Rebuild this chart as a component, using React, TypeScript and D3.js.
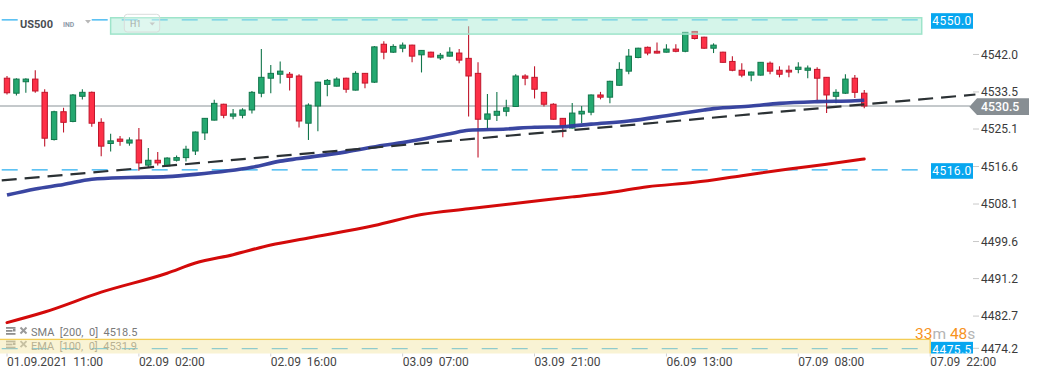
import React from "react";
import * as d3 from "d3";

// ---------- DATA ----------
const opens = [4536.8, 4533.4, 4536.0, 4536.6, 4533.6, 4522.9, 4529.2, 4527.0, 4532.7, 4533.6, 4526.8, 4522.0, 4523.0, 4522.1, 4522.8, 4517.1, 4518.2, 4516.9, 4518.2, 4518.8, 4520.3, 4524.4, 4527.3, 4530.9, 4528.2, 4528.4, 4529.6, 4533.4, 4536.8, 4537.7, 4537.7, 4537.3, 4526.6, 4530.5, 4535.4, 4535.0, 4536.8, 4534.1, 4537.9, 4535.9, 4544.5, 4542.7, 4543.6, 4544.3, 4542.1, 4542.7, 4541.4, 4541.8, 4542.5, 4541.3, 4537.9, 4527.5, 4528.4, 4529.3, 4530.4, 4537.3, 4537.0, 4533.6, 4530.9, 4527.7, 4525.5, 4528.7, 4529.1, 4533.0, 4532.5, 4535.2, 4538.4, 4541.5, 4543.8, 4542.9, 4542.7, 4543.4, 4542.9, 4547.4, 4546.1, 4543.6, 4542.7, 4540.6, 4538.6, 4537.5, 4537.5, 4540.2, 4538.6, 4538.6, 4538.8, 4538.6, 4538.8, 4537.0, 4532.7, 4533.4, 4536.8, 4533.4];
const highs = [4537.3, 4536.8, 4536.8, 4538.6, 4534.3, 4529.4, 4530.1, 4533.2, 4534.3, 4533.8, 4527.7, 4524.2, 4523.7, 4523.4, 4525.5, 4521.0, 4520.1, 4518.9, 4519.3, 4521.5, 4524.7, 4527.8, 4531.9, 4531.0, 4529.8, 4530.0, 4533.9, 4543.4, 4539.8, 4540.6, 4538.2, 4537.7, 4531.1, 4536.0, 4536.6, 4537.0, 4536.9, 4538.4, 4538.0, 4544.1, 4545.2, 4544.5, 4544.9, 4544.4, 4543.2, 4542.8, 4542.5, 4543.8, 4543.4, 4548.6, 4540.4, 4533.2, 4533.7, 4531.9, 4537.7, 4537.7, 4539.5, 4533.7, 4531.1, 4527.8, 4531.2, 4530.5, 4533.1, 4533.7, 4536.2, 4540.4, 4543.4, 4543.7, 4544.0, 4544.9, 4544.5, 4544.5, 4547.3, 4547.5, 4546.2, 4544.7, 4542.8, 4541.8, 4540.2, 4538.3, 4540.5, 4540.6, 4539.5, 4539.7, 4540.4, 4539.7, 4539.3, 4537.1, 4534.3, 4537.7, 4537.5, 4534.1];
const lows = [4533.1, 4532.9, 4533.5, 4533.5, 4521.3, 4522.7, 4524.5, 4526.8, 4532.0, 4525.8, 4519.1, 4520.2, 4521.5, 4521.5, 4515.8, 4516.6, 4517.0, 4516.8, 4517.9, 4517.9, 4519.4, 4522.8, 4527.2, 4527.7, 4527.5, 4527.7, 4528.8, 4532.5, 4533.4, 4535.6, 4534.0, 4525.6, 4522.8, 4524.8, 4532.7, 4534.9, 4533.5, 4534.0, 4534.5, 4535.7, 4541.1, 4542.5, 4542.7, 4540.4, 4538.1, 4541.5, 4540.9, 4541.7, 4540.2, 4528.1, 4518.8, 4525.3, 4527.1, 4528.2, 4530.3, 4535.2, 4532.2, 4530.4, 4527.4, 4523.4, 4525.4, 4526.6, 4528.4, 4532.0, 4531.1, 4535.1, 4537.7, 4541.3, 4542.0, 4542.4, 4542.6, 4542.7, 4542.7, 4545.6, 4543.5, 4542.5, 4540.3, 4538.4, 4537.0, 4536.1, 4537.4, 4537.7, 4537.0, 4537.0, 4537.9, 4536.8, 4531.8, 4528.9, 4531.1, 4533.2, 4532.3, 4530.0];
const closes = [4533.5, 4536.6, 4536.6, 4533.9, 4523.2, 4529.2, 4526.8, 4533.0, 4533.6, 4526.6, 4521.4, 4522.6, 4522.5, 4522.8, 4517.6, 4518.2, 4517.6, 4518.7, 4518.8, 4520.7, 4524.6, 4527.7, 4531.1, 4528.4, 4528.7, 4529.6, 4533.6, 4537.0, 4537.9, 4538.4, 4537.0, 4527.1, 4530.7, 4535.9, 4536.3, 4536.6, 4534.3, 4537.9, 4535.7, 4543.9, 4542.7, 4544.0, 4544.3, 4541.8, 4543.1, 4541.6, 4542.0, 4542.7, 4540.9, 4537.3, 4527.5, 4528.7, 4529.3, 4530.1, 4537.3, 4536.8, 4534.3, 4530.9, 4527.5, 4525.9, 4528.9, 4529.3, 4533.0, 4532.5, 4536.1, 4538.8, 4541.8, 4543.6, 4542.5, 4542.5, 4543.4, 4542.9, 4547.2, 4545.8, 4543.6, 4544.3, 4540.4, 4538.6, 4537.5, 4538.2, 4540.4, 4538.4, 4537.7, 4538.2, 4539.3, 4539.1, 4536.8, 4533.0, 4533.6, 4536.6, 4533.6, 4530.5];

// EMA(100) read at candle indices
const emaIdx = [0, 3, 6, 9, 13, 17, 20, 26, 29, 31, 36, 40, 42, 47, 49, 53, 56, 59, 62, 66, 70, 74, 75, 79, 82, 86, 90, 91];
const emaVal = [4510.3, 4511.7, 4512.7, 4513.9, 4514.3, 4514.5, 4515.0, 4516.6, 4518.0, 4518.6, 4520.1, 4521.6, 4522.2, 4524.2, 4525.0, 4525.3, 4525.7, 4525.8, 4526.4, 4527.1, 4528.3, 4529.6, 4529.9, 4530.5, 4531.1, 4531.5, 4531.7, 4531.8];
// SMA(200) read at candle indices
const smaIdx = [0, 4, 10, 17, 20, 24, 28, 32, 39, 44, 49, 55, 60, 64, 68, 73, 78, 83, 87, 91];
const smaVal = [4481.4, 4483.8, 4488.3, 4492.6, 4494.9, 4496.8, 4499.0, 4500.6, 4503.4, 4505.9, 4507.2, 4508.7, 4509.9, 4510.9, 4512.2, 4513.2, 4514.7, 4516.2, 4517.3, 4518.5];

const trendIdx = [-0.74, 102.8];
const trendVal = [4513.6, 4533.1];

const yTickValues = [4542.0, 4533.5, 4525.1, 4516.6, 4508.1, 4499.6, 4491.2, 4482.7, 4474.2];
const yTickLabels = ["4542.0", "4533.5", "4525.1", "4516.6", "4508.1", "4499.6", "4491.2", "4482.7", "4474.2"];
const xTickIdx = [0, 14, 28, 42, 56, 70, 84, 98];
const xTickLabels = ["01.09.2021  11:00", "02.09  02:00", "02.09  16:00", "03.09  07:00", "03.09  21:00", "06.09  13:00", "07.09  08:00", "07.09  22:00"];

const levelValues = [4550.0, 4516.0, 4475.5];
const levelLabels = ["4550.0", "4516.0", "4475.5"];
const lastPrice = 4530.5;
const lastPriceLabel = "4530.5";

const resistanceZoneVal = [4546.8, 4550.5];
const resistanceZoneIdx = [11.0, 97.1];
const supportZoneVal = [4468.0, 4477.6];
const supportZoneIdx = [-1.0, 98.0];

const legendLabels = ["SMA  [200,  0]  4518.5", "EMA  [100,  0]  4531.9"];
const symbolName = "US500";
const symbolType = "IND";
const timeframe = "H1";
const timerParts = ["33", "m", " 48", "s"];

// ---------- LAYOUT ----------
const W = 1041;
const H = 379;
const PLOT_BOTTOM = 353.6;
const FONT = "Roboto, 'Noto Sans', sans-serif";

if (typeof document !== "undefined") {
  document.body.style.margin = "0";
}

const GREEN_FILL = "#24a870";
const GREEN_STROKE = "#12764b";
const RED_FILL = "#fd3047";
const RED_STROKE = "#c0162b";
const CYAN = "#2aaff0";

export default function App() {
  const x = d3.scaleLinear().domain([0, 98]).range([7.0, 930.2]);
  const y = d3.scaleLinear().domain([4530.5, 4550]).range([106.0, 19.97]);

  const line = d3
    .line<[number, number]>()
    .x((d) => x(d[0]))
    .y((d) => y(d[1]))
    .curve(d3.curveMonotoneX);

  const emaPath = line(emaIdx.map((d, i) => [d, emaVal[i]]) as [number, number][]) || "";
  const smaPath = line(smaIdx.map((d, i) => [d, smaVal[i]]) as [number, number][]) || "";
  const trendPath =
    d3
      .line<[number, number]>()
      .x((d) => x(d[0]))
      .y((d) => y(d[1]))(trendIdx.map((d, i) => [d, trendVal[i]]) as [number, number][]) || "";

  const bodyW = 5.4;

  return (
    <svg width={W} height={H} style={{ display: "block", fontFamily: FONT, background: "#fff" }}>
      <defs>
        <clipPath id="plot">
          <rect x={0} y={0} width={978} height={PLOT_BOTTOM} />
        </clipPath>
      </defs>
      <rect x={0} y={0} width={W} height={H} fill="#ffffff" />

      <g clipPath="url(#plot)">
        {/* horizontal levels */}
        {levelValues.map((v, i) => (
          <line
            key={"lv" + i}
            x1={0}
            x2={921}
            y1={y(v)}
            y2={y(v)}
            stroke={CYAN}
            strokeWidth={1.3}
            strokeDasharray="16 14"
            strokeDashoffset={28.3}
          />
        ))}
        {/* current price line */}
        <line x1={0} x2={970} y1={y(lastPrice)} y2={y(lastPrice)} stroke="#8a9398" strokeWidth={1} />

        {/* candles */}
        {opens.map((o, i) => {
          const c = closes[i];
          const up = c >= o;
          const cx = x(i);
          const top = y(Math.max(o, c));
          const bot = y(Math.min(o, c));
          const h = Math.max(bot - top, 1);
          return (
            <g key={"c" + i}>
              <line
                x1={cx}
                x2={cx}
                y1={y(highs[i])}
                y2={y(lows[i])}
                stroke={up ? GREEN_STROKE : RED_STROKE}
                strokeWidth={1.1}
              />
              <rect
                x={cx - bodyW / 2}
                y={top}
                width={bodyW}
                height={h}
                fill={up ? GREEN_FILL : RED_FILL}
                stroke={up ? GREEN_STROKE : RED_STROKE}
                strokeWidth={1}
              />
            </g>
          );
        })}

        {/* indicators */}
        <path d={smaPath} fill="none" stroke="#d30a0a" strokeWidth={3} strokeLinecap="round" />
        <path d={emaPath} fill="none" stroke="#2f3c9c" strokeWidth={3.6} strokeLinecap="butt" opacity={0.95} />
        <path d={trendPath} fill="none" stroke="#2b3134" strokeWidth={2.2} strokeDasharray="15 8" strokeDashoffset={21.3} />

        {/* legend */}
        {legendLabels.map((t, i) => {
          const ly = 336 + i * 13.6;
          return (
            <g key={"lg" + i} fill="#8f8f8f">
              <rect x={6} y={ly - 9} width={9.5} height={1.8} />
              <rect x={6} y={ly - 6} width={6.5} height={1.8} />
              <rect x={6} y={ly - 3} width={9.5} height={1.8} />
              <rect x={13} y={ly - 7} width={2.5} height={2.5} />
              <line x1={20.5} y1={ly - 8.5} x2={26.5} y2={ly - 2.5} stroke="#9a9a9a" strokeWidth={2} />
              <line x1={26.5} y1={ly - 8.5} x2={20.5} y2={ly - 2.5} stroke="#9a9a9a" strokeWidth={2} />
              <text x={31} y={ly} fontSize={11} fill="#7a7a7a" style={{ whiteSpace: "pre" }}>
                {t}
              </text>
            </g>
          );
        })}

        {/* zones */}
        <rect
          x={x(resistanceZoneIdx[0])}
          y={y(resistanceZoneVal[1])}
          width={x(resistanceZoneIdx[1]) - x(resistanceZoneIdx[0])}
          height={y(resistanceZoneVal[0]) - y(resistanceZoneVal[1])}
          fill="#abebd5"
          fillOpacity={0.5}
          stroke="#9ee4ca"
          strokeWidth={1.5}
        />
        <rect
          x={x(supportZoneIdx[0])}
          y={y(supportZoneVal[1])}
          width={x(supportZoneIdx[1]) - x(supportZoneIdx[0])}
          height={y(supportZoneVal[0]) - y(supportZoneVal[1])}
          fill="#f3e7a9"
          fillOpacity={0.5}
          stroke="#f3cd55"
          strokeWidth={1.3}
        />

        {/* level label boxes */}
        {levelValues.map((v, i) => (
          <g key={"lb" + i}>
            <rect x={931} y={y(v) + 1 - 7.8} width={42} height={15.6} fill="#07a6ef" />
            <text
              x={952}
              y={y(v) + 5.2}
              fontSize={12}
              fill="#ffffff"
              textAnchor="middle"
              letterSpacing={0.4}
            >
              {levelLabels[i]}
            </text>
          </g>
        ))}
      </g>

      {/* header */}
      <rect x={18} y={12} width={72} height={18} fill="#ffffff" />
      <text x={20} y={27.7} fontSize={11} fontWeight="bold" fill="#4a4e52">
        {symbolName}
      </text>
      <text x={63} y={26.5} fontSize={6.8} fontWeight="bold" fill="#8d9aa8">
        {symbolType}
      </text>
      <path d="M85,20 L91,20 L88,23.5 Z" fill="#b8b8b8" />
      <rect x={124.3} y={14.3} width={35.4} height={17.7} rx={3} fill="#ffffff" fillOpacity={0.25} stroke="#d9dddb" strokeWidth={1} />
      <text x={130} y={26.7} fontSize={8.8} fill="#a5a9a7">
        {timeframe}
      </text>
      <path d="M149.5,22.5 L155,22.5 L152.25,25.5 Z" fill="#c6cac8" />

      {/* timer */}
      <text x={915} y={339} fontSize={15.5} style={{ whiteSpace: "pre" }}>
        <tspan fill="#f7931e">{timerParts[0]}</tspan>
        <tspan fill="#b4b4b4">{timerParts[1]}</tspan>
        <tspan fill="#f7931e">{timerParts[2]}</tspan>
        <tspan fill="#b4b4b4">{timerParts[3]}</tspan>
      </text>

      {/* right axis */}
      {yTickValues.map((v, i) => {
        const cy = Math.min(y(v) - 0.8, 348.3);
        return (
          <g key={"yt" + i}>
            <line x1={973} x2={979} y1={cy} y2={cy} stroke="#c9c9c9" strokeWidth={1} />
            <text x={981} y={cy + 4.3} fontSize={12} fill="#3a3a3a">
              {yTickLabels[i]}
            </text>
          </g>
        );
      })}

      {/* last price tag */}
      {(() => {
        const py = y(lastPrice) + 0.7;
        return (
          <g>
            <path
              d={`M969.3,${py} L977,${py - 8.4} L1029,${py - 8.4} L1029,${py + 8.4} L977,${py + 8.4} Z`}
              fill="#878e93"
            />
            <text x={981} y={py + 4.4} fontSize={12.3} fontWeight={500} fill="#ffffff">
              {lastPriceLabel}
            </text>
          </g>
        );
      })()}

      {/* bottom axis */}
      {xTickIdx.map((t, i) => (
        <g key={"xt" + i}>
          <line x1={x(t)} x2={x(t)} y1={353.5} y2={356.5} stroke="#d0d0d0" strokeWidth={1} />
          <text x={x(t)} y={366} fontSize={12} fill="#454545" style={{ whiteSpace: "pre" }}>
            {xTickLabels[i]}
          </text>
        </g>
      ))}
    </svg>
  );
}
